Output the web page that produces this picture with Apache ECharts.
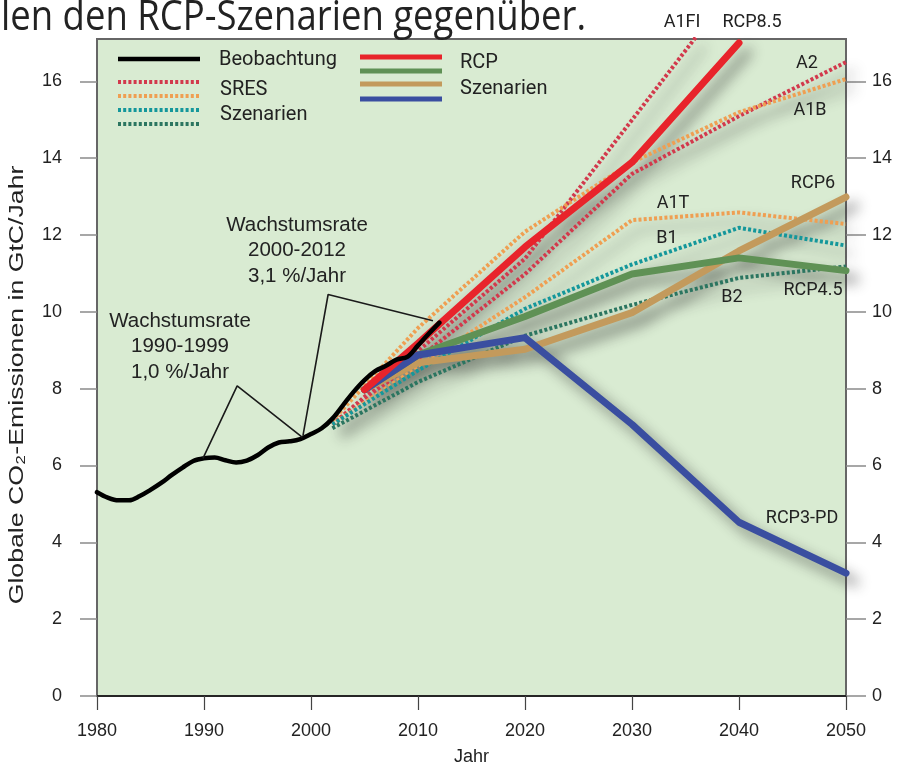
<!DOCTYPE html>
<html>
<head>
<meta charset="utf-8">
<script src="https://cdn.jsdelivr.net/npm/echarts@6/dist/echarts.min.js"></script>
<style>
  html, body { margin: 0; padding: 0; background: #ffffff; }
  #wrap { position: relative; width: 903px; height: 771px; overflow: hidden; }
  .layer { position: absolute; left: 0; top: 0; width: 903px; height: 771px; }
  /* soft drop shadow under the scenario lines */
  #shade { filter: blur(7px); opacity: 0.55; transform: translate(9px, 9px); }
</style>
</head>
<body>
<div id="wrap">
  <div id="base" class="layer"></div>
  <div id="shade" class="layer"></div>
  <div id="lines" class="layer"></div>
</div>
<script>
// Observed global CO2 emissions (GtC per year)
const obsYears  = [1980,1981,1982,1983,1984,1985,1986,1987,1988,1989,1990,1991,1992,1993,1994,1995,1996,1997,1998,1999,2000,2001,2002,2003,2004,2005,2006,2007,2008,2009,2010,2011,2012];
const obsValues = [5.34,5.20,5.13,5.13,5.24,5.40,5.58,5.79,5.98,6.15,6.22,6.24,6.17,6.11,6.16,6.30,6.50,6.63,6.66,6.72,6.85,7.00,7.25,7.60,7.95,8.25,8.48,8.62,8.78,8.85,9.15,9.45,9.74];

// SRES scenarios: [year, GtC/yr]
const sresA1FI = [[2002,7.1],[2010,9.0],[2020,11.4],[2030,15.0],[2040,18.6]];
const sresA2   = [[2002,7.1],[2010,8.8],[2020,11.0],[2030,13.6],[2040,15.1],[2050,16.5]];
const sresA1B  = [[2002,7.2],[2010,9.6],[2020,12.1],[2030,13.9],[2040,15.2],[2050,16.06]];
const sresA1T  = [[2002,7.1],[2010,8.6],[2020,10.4],[2030,12.4],[2040,12.6],[2050,12.3]];
const sresB1   = [[2002,7.1],[2010,8.5],[2020,10.1],[2030,11.25],[2040,12.2],[2050,11.74]];
const sresB2   = [[2002,7.0],[2010,8.2],[2020,9.4],[2030,10.2],[2040,10.9],[2050,11.2]];

// RCP scenarios: [year, GtC/yr]
const rcp85  = [[2005,8.0],[2010,9.2],[2020,11.7],[2030,13.9],[2040,17.0]];
const rcp6   = [[2005,8.0],[2010,8.7],[2020,9.05],[2030,10.0],[2040,11.6],[2050,13.0]];
const rcp45  = [[2005,8.0],[2010,8.9],[2020,9.9],[2030,11.0],[2040,11.42],[2050,11.09]];
const rcp3pd = [[2005,8.0],[2010,8.9],[2020,9.35],[2030,7.1],[2040,4.56],[2050,3.24]];

// Growth-rate callout pointers: [year, GtC/yr]
const pointer9099 = [[1989.9,6.22],[1993.1,8.1],[1999.2,6.76]];
const pointer0012 = [[1999.25,6.81],[2001.6,10.47],[2011.4,9.79]];

// Axis ticks
const yTicks = [0,2,4,6,8,10,12,14,16];
const xTicks = [1980,1990,2000,2010,2020,2030,2040,2050];

const C = {
  sresRed: '#d2394c', sresOrange: '#ef9f52', sresTeal: '#14979b', sresGreen: '#2b7560',
  rcpRed: '#e8242b', rcpGreen: '#5f9155', rcpTan: '#c39a5c', rcpBlue: '#3a4ea0',
  text: '#222222', plotBg: '#d9ebd2', shade: '#202020'
};

const SANS = '"Liberation Sans", Arial, sans-serif';
const LABEL = 'Roboto, "Open Sans", sans-serif';
const DOT = [3, 2.2];

const scenarios = [
  { name: 'A1FI', data: sresA1FI, color: C.sresRed, dotted: true },
  { name: 'A2', data: sresA2, color: C.sresRed, dotted: true },
  { name: 'A1B', data: sresA1B, color: C.sresOrange, dotted: true },
  { name: 'A1T', data: sresA1T, color: C.sresOrange, dotted: true },
  { name: 'B1', data: sresB1, color: C.sresTeal, dotted: true },
  { name: 'B2', data: sresB2, color: C.sresGreen, dotted: true },
  { name: 'RCP6', data: rcp6, color: C.rcpTan },
  { name: 'RCP4.5', data: rcp45, color: C.rcpGreen },
  { name: 'RCP3-PD', data: rcp3pd, color: C.rcpBlue },
  { name: 'RCP8.5', data: rcp85, color: C.rcpRed }
];

function scenarioSeries(s, colorOverride) {
  const color = colorOverride || s.color;
  return {
    type: 'line', name: s.name, data: s.data, showSymbol: false, symbol: 'none', silent: true,
    z: s.dotted ? 2 : 3,
    lineStyle: s.dotted
      ? { color, width: 4, type: DOT, cap: 'butt' }
      : { color, width: 7, cap: 'round', join: 'round' }
  };
}
function pointer(name, data) {
  return {
    type: 'line', name, data, showSymbol: false, symbol: 'none', silent: true, z: 5,
    lineStyle: { color: '#1a1a1a', width: 1.6 }
  };
}

const observed = {
  type: 'line', name: 'Beobachtung', data: obsYears.map((y, i) => [y, obsValues[i]]),
  showSymbol: false, symbol: 'none', smooth: 0.35, silent: true, z: 4,
  lineStyle: { color: '#000000', width: 4.5, cap: 'round', join: 'round' }
};

// Legend swatches and text labels
function txt(x, y, text, font, align, extra) {
  return Object.assign({
    type: 'text', x, y, silent: true, z: 20,
    style: { text, font, fill: C.text, align: align || 'center', verticalAlign: 'middle' }
  }, extra || {});
}
function swatch(x1, x2, y, color, width, dash) {
  return {
    type: 'line', silent: true, z: 20,
    shape: { x1, y1: y, x2, y2: y },
    style: { stroke: color, lineWidth: width, lineDash: dash || null, lineCap: 'butt' }
  };
}

const lf = '20px ' + LABEL;
const sf = '18px ' + LABEL;
const af = '20.5px ' + SANS;

const graphics = [
  txt(1, 18, 'len den RCP-Szenarien gegenüber.', '36.5px "Open Sans", sans-serif', 'left', { scaleY: 1.15 }),
  txt(17, 385, 'Globale CO₂-Emissionen in GtC/Jahr', '21px ' + SANS, 'center', { rotation: Math.PI / 2, scaleX: 1.27 }),

  swatch(118, 200, 59, '#000000', 4.5),
  swatch(118, 200, 82, C.sresRed, 4, DOT),
  swatch(118, 200, 96, C.sresOrange, 4, DOT),
  swatch(118, 200, 110, C.sresTeal, 4, DOT),
  swatch(118, 200, 124, C.sresGreen, 4, DOT),
  txt(219, 60, 'Beobachtung', lf, 'left'),
  txt(220, 90, 'SRES', lf, 'left'),
  txt(220, 115, 'Szenarien', lf, 'left'),

  swatch(360, 442, 57, C.rcpRed, 5),
  swatch(360, 442, 71, C.rcpGreen, 5),
  swatch(360, 442, 84, C.rcpTan, 5),
  swatch(360, 442, 99, C.rcpBlue, 5),
  txt(460, 63, 'RCP', lf, 'left'),
  txt(460, 89, 'Szenarien', lf, 'left'),

  txt(682, 22, 'A1FI', sf),
  txt(752, 22, 'RCP8.5', sf),
  txt(807, 63, 'A2', sf),
  txt(810, 110, 'A1B', sf),
  txt(813, 183, 'RCP6', sf),
  txt(673, 203, 'A1T', sf),
  txt(667, 238, 'B1', sf),
  txt(732, 297, 'B2', sf),
  txt(813, 290, 'RCP4.5', sf),
  txt(802, 518, 'RCP3-PD', sf),

  txt(297, 225, 'Wachstumsrate', af),
  txt(297, 250, '2000-2012', af),
  txt(297, 276, '3,1 %/Jahr', af),
  txt(180, 321, 'Wachstumsrate', af),
  txt(180, 346, '1990-1999', af),
  txt(180, 372, '1,0 %/Jahr', af)
];

const GRID = { left: 97, right: 57, top: 39, bottom: 73 };
const yLabel = { fontSize: 18, color: C.text, fontFamily: SANS, customValues: yTicks };

const baseOption = {
  animation: false,
  backgroundColor: '#ffffff',
  grid: Object.assign({ show: true, backgroundColor: C.plotBg, borderColor: '#666666', borderWidth: 2 }, GRID),
  xAxis: {
    type: 'value', min: 1980, max: 2050, interval: 10,
    name: 'Jahr', nameLocation: 'middle', nameGap: 52,
    nameTextStyle: { fontSize: 18, color: C.text, fontFamily: SANS },
    axisLine: { show: true, lineStyle: { color: '#111111', width: 1.5 } },
    axisTick: { show: true, length: 14, lineStyle: { color: '#444444', width: 1.2 }, customValues: xTicks },
    axisLabel: {
      fontSize: 18, color: C.text, fontFamily: SANS, margin: 26, customValues: xTicks,
      formatter: v => String(v)
    },
    splitLine: { show: false }
  },
  yAxis: [
    {
      type: 'value', min: 0, max: 17.1, position: 'left',
      axisLine: { show: false },
      axisTick: { show: true, length: 17, lineStyle: { color: '#8a8a8a', width: 1.5 }, customValues: yTicks },
      axisLabel: Object.assign({ margin: 35 }, yLabel),
      splitLine: { show: false }
    },
    {
      type: 'value', min: 0, max: 17.1, position: 'right',
      axisLine: { show: false },
      axisTick: { show: true, length: 20, lineStyle: { color: '#8a8a8a', width: 1.5 }, customValues: yTicks },
      axisLabel: Object.assign({ margin: 26 }, yLabel),
      splitLine: { show: false }
    }
  ],
  series: [],
  graphic: graphics
};

// Transparent overlay sharing the same scales, used for the lines and their shadow
function overlayOption(series) {
  const hidden = { show: false };
  return {
    animation: false,
    backgroundColor: 'transparent',
    grid: Object.assign({ show: false }, GRID),
    xAxis: { type: 'value', min: 1980, max: 2050, interval: 10, axisLine: hidden, axisTick: hidden, axisLabel: hidden, splitLine: hidden },
    yAxis: { type: 'value', min: 0, max: 17.1, axisLine: hidden, axisTick: hidden, axisLabel: hidden, splitLine: hidden },
    series
  };
}

echarts.init(document.getElementById('base'), null, { renderer: 'canvas' }).setOption(baseOption);
echarts.init(document.getElementById('shade'), null, { renderer: 'canvas' })
  .setOption(overlayOption(scenarios.map(s => scenarioSeries(s, C.shade))));
echarts.init(document.getElementById('lines'), null, { renderer: 'canvas' })
  .setOption(overlayOption(
    scenarios.map(s => scenarioSeries(s))
      .concat([observed, pointer('Wachstumsrate 1990-1999', pointer9099), pointer('Wachstumsrate 2000-2012', pointer0012)])
  ));
</script>
</body>
</html>
